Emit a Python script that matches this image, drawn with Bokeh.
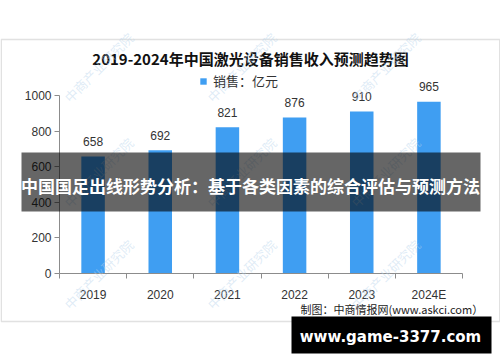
from bokeh.plotting import figure
from bokeh.models import (Label, LabelSet, BoxAnnotation, ColumnDataSource, FixedTicker,
                          Legend, LegendItem, Range1d)
from bokeh.core.properties import value
from bokeh.embed import file_html
from bokeh.resources import INLINE

# ---- data ----
years = ["2019", "2020", "2021", "2022", "2023", "2024E"]
sales = [658, 692, 821, 876, 910, 965]
y_ticks = [0, 200, 400, 600, 800, 1000]
y_max = 1000
title_text = "2019-2024年中国激光设备销售收入预测趋势图"
legend_text = "销售：亿元"
source_text = "制图：中商情报网(www.askci.com）"
banner_text = "中国国足出线形势分析：基于各类因素的综合评估与预测方法"
site_text = "www.game-3377.com"
watermark_text = "中商产业研究院"

BLUE = "#3f9ef2"
AXIS = "#8c8c8c"
TXT = "#333333"
CJK = "Noto Sans CJK SC"
NUM = "Liberation Sans"

# ---- layout (figure pixels, measured from top-left) ----
W, H = 500, 362
AX_L, AX_R = 59, 462      # plot area left / right
AX_T, AX_B = 95, 273      # plot area top (y_max) / bottom (0)
n = len(years)
px_cat = (AX_R - AX_L) / n
px_val = (AX_B - AX_T) / y_max
x0 = -0.5 - AX_L / px_cat
x1 = n - 0.5 + (W - AX_R) / px_cat
y0 = -(H - AX_B) / px_val
y1 = y_max + AX_T / px_val


def sx(fx):
    return fx


def sy(fy):
    return H - fy


x_idx = list(range(n))
src = ColumnDataSource(dict(x=x_idx, top=sales, label=[str(v) for v in sales]))

p = figure(width=W, height=H, output_backend="svg", toolbar_location=None,
           x_range=Range1d(x0, x1), y_range=Range1d(y0, y1),
           min_border=0, background_fill_color="white", border_fill_color="white",
           outline_line_color=None)
p.grid.visible = False

r = p.vbar(x="x", top="top", width=0.35, bottom=0, source=src,
           fill_color=BLUE, line_color=None)

# x axis: labels at centres, tick marks at category boundaries
xa = p.xaxis[0]
xa.fixed_location = 0
xa.bounds = (-0.5, n - 0.5)
xa.ticker = FixedTicker(ticks=x_idx, minor_ticks=[i - 0.5 for i in range(n + 1)])
xa.major_label_overrides = {i: y for i, y in enumerate(years)}
xa.major_tick_out = 0
xa.major_tick_in = 0
xa.minor_tick_out = 5
xa.minor_tick_in = 0
xa.minor_tick_line_color = AXIS
xa.axis_line_color = AXIS
xa.major_label_standoff = 9
xa.major_label_text_font = NUM
xa.major_label_text_font_size = "12px"
xa.major_label_text_color = TXT

ya = p.yaxis[0]
ya.fixed_location = -0.5
ya.bounds = (0, y_max)
ya.ticker = FixedTicker(ticks=y_ticks)
ya.major_tick_out = 5
ya.major_tick_in = 0
ya.minor_tick_out = 0
ya.minor_tick_in = 0
ya.major_tick_line_color = AXIS
ya.axis_line_color = AXIS
ya.major_label_standoff = 3
ya.major_label_text_font = NUM
ya.major_label_text_font_size = "12px"
ya.major_label_text_color = TXT

# value labels
p.add_layout(LabelSet(x="x", y="top", text="label", source=src, text_align="center",
                      text_baseline="middle", y_offset=15, text_font=value(NUM),
                      text_font_size=value("12px"), text_color=TXT))

# legend
legend = Legend(items=[LegendItem(label=legend_text, renderers=[r])], location=(199, 272),
                orientation="horizontal", padding=0, margin=0, spacing=0,
                glyph_width=8, glyph_height=8, label_standoff=6, label_height=14,
                label_text_font=CJK, label_text_font_size="13px", label_text_color=TXT,
                background_fill_alpha=0, border_line_color=None)
p.add_layout(legend)

# title
p.add_layout(Label(x=sx(250), y=sy(58), x_units="screen", y_units="screen", text=title_text,
                   text_align="center", text_baseline="middle", text_font=CJK,
                   text_font_style="bold", text_font_size="15px", text_color="#111111"))

# outer border
p.add_layout(BoxAnnotation(left=sx(0.75), right=sx(499.25), top=sy(39), bottom=sy(321),
                           left_units="screen", right_units="screen", top_units="screen",
                           bottom_units="screen", fill_alpha=0, line_color="#9a9a9a",
                           line_width=1.5))

# source
p.add_layout(Label(x=sx(300), y=sy(308), x_units="screen", y_units="screen", text=source_text,
                   text_align="left", text_baseline="middle", text_font=CJK,
                   text_font_size="11px", text_color="#222222"))

# watermarks
for wy in (103, 208, 310):
    for wx in (60, 203, 347):
        p.add_layout(Label(x=sx(wx + 6), y=sy(wy - 4), x_units="screen", y_units="screen",
                           text=watermark_text, angle=45, angle_units="deg",
                           text_align="left", text_baseline="middle", text_font=CJK,
                           text_font_size="13px", text_color="#b8d4ec", text_alpha=0.45))

# banner
p.add_layout(BoxAnnotation(left=sx(21), right=sx(480), top=sy(152), bottom=sy(211),
                           left_units="screen", right_units="screen", top_units="screen",
                           bottom_units="screen", fill_color="black", fill_alpha=0.6,
                           line_color=None))
p.add_layout(Label(x=sx(250), y=sy(185), x_units="screen", y_units="screen", text=banner_text,
                   text_align="center", text_baseline="middle", text_font=CJK,
                   text_font_style="bold", text_font_size="17px", text_color="white"))

# site box
p.add_layout(BoxAnnotation(left=sx(291), right=sx(491), top=sy(316), bottom=sy(353),
                           left_units="screen", right_units="screen", top_units="screen",
                           bottom_units="screen", fill_color="black", fill_alpha=1,
                           line_color=None))
p.add_layout(Label(x=sx(390), y=sy(336), x_units="screen", y_units="screen", text=site_text,
                   text_align="center", text_baseline="middle", text_font="DejaVu Sans",
                   text_font_style="bold", text_font_size="15px", text_color="white"))

open("out.html", "w").write(file_html(p, INLINE))
